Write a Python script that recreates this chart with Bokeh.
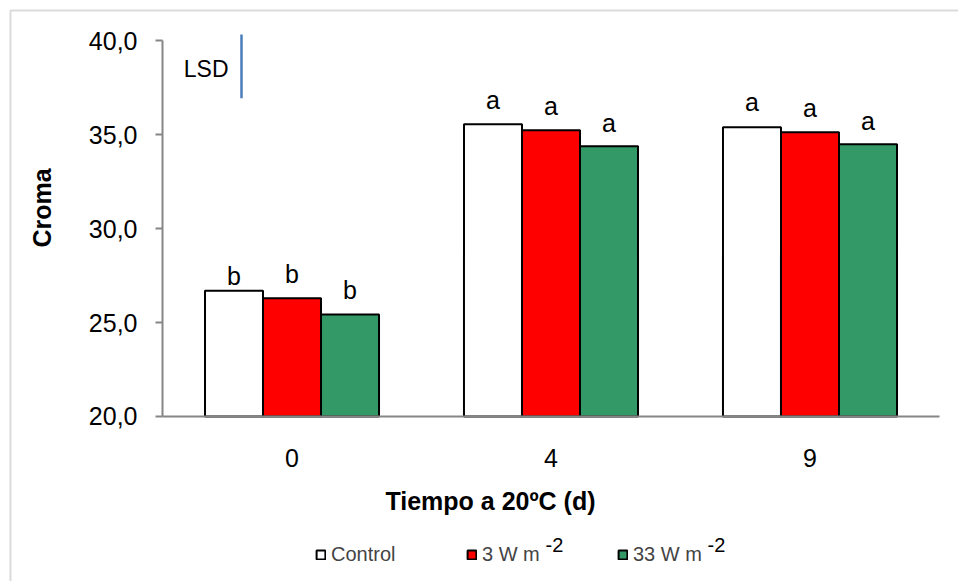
import math
from bokeh.plotting import figure
from bokeh.models import (Range1d, FixedTicker, CustomJSTickFormatter,
                          ColumnDataSource, Label, Legend, LegendItem, BoxAnnotation)
from bokeh.core.properties import value
from bokeh.embed import file_html
from bokeh.resources import INLINE

# ---- data ----
days = ["0", "4", "9"]
control = [26.7, 35.56, 35.40]
w3 = [26.29, 35.24, 35.13]
w33 = [25.43, 34.38, 34.49]
letters_control = ["b", "a", "a"]
letters_w3 = ["b", "a", "a"]
letters_w33 = ["b", "a", "a"]
err_control = [0.0, 0.48, 0.55]
err_w3 = [0.48, 0.48, 0.48]
err_w33 = [0.48, 0.43, 0.43]
lsd_base = 36.944
lsd = 3.39
y_ticks = [20, 25, 30, 35, 40]
series_names = ["Control", "3 W m", "33 W m"]
series_colors = ["#ffffff", "#ff0000", "#339966"]

FONT = "Liberation Sans"
W, H = 958, 581

# category centres on a numeric scale (one unit per day)
xc = [i + 0.5 for i in range(len(days))]

p = figure(width=W, height=H, x_range=Range1d(-0.6255, 3.0734),
           y_range=Range1d(11.216, 42.145), output_backend="svg", toolbar_location=None,
           min_border=0, min_border_left=0, min_border_right=0,
           min_border_top=0, min_border_bottom=0)
p.title.visible = False
p.outline_line_color = None
p.xgrid.visible = False
p.ygrid.visible = False
p.background_fill_color = "white"
p.border_fill_color = "white"

bw = 0.224
offs = [-bw, 0.0, bw]
series = [control, w3, w33]
letters = [letters_control, letters_w3, letters_w33]
errs = [err_control, err_w3, err_w33]

bar_renderers = []
for vals, off, color, lab, er in zip(series, offs, series_colors, letters, errs):
    xs = [c + off for c in xc]
    src = ColumnDataSource(dict(x=xs, top=vals, lab=lab, ly=[v + e for v, e in zip(vals, er)]))
    r = p.vbar(x="x", top="top", bottom=20, width=bw, source=src,
               fill_color=color, line_color="black", line_width=2)
    bar_renderers.append(r)
    p.text(x="x", y="ly", text="lab", source=src,
           text_align="center", text_baseline="alphabetic", y_offset=-15,
           text_font=value(FONT), text_font_size="25px", text_color="black")

# LSD bar
lsd_x = [0.305]
p.segment(x0=lsd_x, x1=lsd_x, y0=[lsd_base], y1=[lsd_base + lsd],
          line_color="#4a7ebb", line_width=2.5)
p.text(x=lsd_x, y=[lsd_base + lsd / 2], text=["LSD"], x_offset=-13, y_offset=3,
       text_align="right", text_baseline="alphabetic",
       text_font=value(FONT), text_font_size="23px", text_color="black")

# axes (placed at fixed data locations)
p.yaxis.fixed_location = 0
p.yaxis.ticker = FixedTicker(ticks=y_ticks)
p.yaxis.formatter = CustomJSTickFormatter(code="return tick.toFixed(1).replace('.', ',')")
p.yaxis.bounds = (20, 40)
p.yaxis.minor_tick_line_color = None
p.yaxis.major_tick_in = 0
p.yaxis.major_tick_out = 7
p.yaxis.major_label_standoff = 18

p.xaxis.fixed_location = 20
p.xaxis.ticker = FixedTicker(ticks=xc)
p.xaxis.major_label_overrides = {c: d for c, d in zip(xc, days)}
p.xaxis.bounds = (0, len(days))
p.xaxis.minor_tick_line_color = None
p.xaxis.major_tick_line_color = None
p.xaxis.major_tick_out = 0
p.xaxis.major_tick_in = 0
p.xaxis.major_label_standoff = 33

for ax in (p.xaxis, p.yaxis):
    ax.axis_line_color = "#868686"
    ax.axis_line_width = 2
    ax.major_label_text_font = FONT
    ax.major_label_text_font_size = "25px"
    ax.major_label_text_color = "black"
p.yaxis.major_tick_line_color = "#868686"
p.yaxis.major_tick_line_width = 2

# axis titles
p.add_layout(Label(x=1.2664, y=15.103, y_offset=7, text="Tiempo a 20ºC (d)", text_align="center",
                   text_baseline="alphabetic", text_font=FONT, text_font_size="25px",
                   text_font_style="bold", text_color="black"))
p.add_layout(Label(x=-0.467, y=31.10, text="Croma", angle=math.pi / 2, text_align="center",
                   text_baseline="alphabetic", text_font=FONT, text_font_size="25px",
                   text_font_style="bold", text_color="black"))

# legend
legend = Legend(items=[LegendItem(label=n, renderers=[r]) for n, r in zip(series_names, bar_renderers)],
                orientation="horizontal", location=(315, 15), padding=0, margin=0,
                spacing=15, glyph_width=11, glyph_height=11, label_standoff=5,
                label_width=120, label_height=24,
                label_text_font=FONT, label_text_font_size="20px",
                border_line_color=None, background_fill_alpha=0)
p.add_layout(legend)
for x in (1.4788, 2.1042):
    p.add_layout(Label(x=x, y=12.76, y_offset=7, text="-2", text_align="left", text_baseline="alphabetic",
                       text_font=FONT, text_font_size="20px", text_color="black"))

# outer chart border (only its top and left edges fall inside the picture)
p.add_layout(BoxAnnotation(left=10, right=3000, top=10, bottom=3000,
                           left_units="canvas", right_units="canvas",
                           top_units="canvas", bottom_units="canvas",
                           fill_alpha=0, line_color="#898989", line_width=2))

open("out.html", "w").write(file_html(p, INLINE))
